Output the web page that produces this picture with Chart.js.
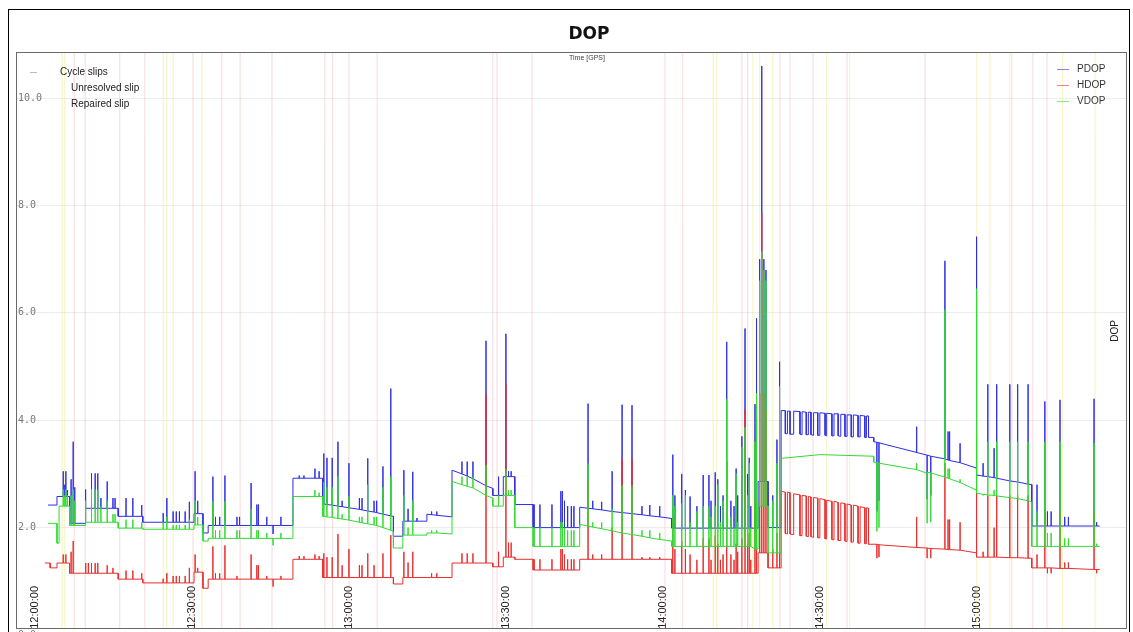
<!DOCTYPE html>
<html>
<head>
<meta charset="utf-8">
<title>DOP</title>
<script src="https://cdn.jsdelivr.net/npm/chart.js@4.4.0/dist/chart.umd.min.js"></script>
<style>
  html, body { margin: 0; padding: 0; background: #ffffff; }
  canvas { display: block; }
</style>
</head>
<body>
<canvas id="dop" width="1133" height="632"></canvas>
<script>
// Time axis: minutes after 12:00:00 GPS
const timeMin = -3.63;
const timeMax = 208.7;
const tickMinutes = [0, 30, 60, 90, 120, 150, 180];
const tickLabels = ['12:00:00', '12:30:00', '13:00:00', '13:30:00', '14:00:00', '14:30:00', '15:00:00'];

// DOP axis
const dopMin = 0.13;
const dopMax = 10.86;
const dopTicks = [0, 2, 4, 6, 8, 10];

// Each series: a base path [minute, value] plus short excursions [minute, base, peak]
const pdopLine = [
  [2.5,2.42],[4.2,2.42],[4.2,2.58],[6.6,2.58],[6.6,2.08],[9.6,2.08],[9.6,2.36],[15.9,2.36],[15.9,2.21],[20.6,2.21],
  [20.6,2.1],[30.4,2.1],[30.4,2.26],[32.1,2.26],[32.1,1.9],[33.1,1.9],[33.1,2.04],[49.3,2.04],[49.3,2.92],[55.0,2.92],
  [55.0,2.44],[68.5,2.21],[68.5,1.84],[70.3,1.84],[70.3,2.12],[74.9,2.12],[74.9,2.25],[79.7,2.2],[79.7,3.07],[87.5,2.73],
  [87.5,2.6],[89.5,2.6],[89.5,2.95],[91.7,2.95],[91.7,2.43],[95.2,2.43],[95.2,2.0],[104.1,2.0],[104.1,2.38],[121.7,2.17],
  [121.7,1.99],[138.2,1.99],[138.2,2.86],[140.1,2.86],[140.1,2.0],[142.6,2.0],
  [142.6,4.18],[143.4,4.18],[143.4,3.75],[143.8,3.75],[143.8,4.17],[144.3,4.17],[144.3,3.74],[145.0,3.74],[145.0,4.17],
  [146.2,4.16],[146.2,3.74],[146.6,3.73],[146.6,4.16],[147.4,4.15],[147.4,3.73],[147.8,3.73],[147.8,4.15],[148.3,4.15],
  [148.3,3.73],[148.8,3.72],[148.8,4.14],[149.6,4.14],[149.6,3.72],[150.0,3.72],[150.0,4.14],[151.0,4.13],[151.0,3.72],
  [151.3,3.71],[151.3,4.13],[152.3,4.12],[152.3,3.71],[152.7,3.71],[152.7,4.12],[153.5,4.12],[153.5,3.71],[154.0,3.7],
  [154.0,4.11],[154.8,4.11],[154.8,3.7],[155.2,3.7],[155.2,4.1],[156.0,4.1],[156.0,3.69],[156.4,3.69],[156.4,4.1],
  [157.3,4.09],[157.3,3.69],[157.7,3.69],[157.7,4.09],[158.6,4.08],[158.6,3.68],[158.9,3.68],[158.9,4.08],[159.3,4.08],
  [159.3,3.68],[160.3,3.68],[160.3,3.6],[180.0,3.1],[180.0,2.98],[190.5,2.8],[190.5,2.03],[203.5,2.03]
];
const pdopSpikes = [
  [5.4,2.58,3.05],[5.7,2.58,2.8],[5.9,2.58,3.05],[6.2,2.58,2.7],[6.9,2.08,2.9],[7.3,2.08,3.6],[7.6,2.08,2.75],
  [9.7,2.36,2.71],[10.8,2.36,3.01],[11.5,2.36,3.01],[12.0,2.36,3.01],[12.6,2.36,2.55],[13.8,2.36,2.86],[14.9,2.36,2.55],[15.3,2.36,2.55],
  [17.4,2.21,2.55],[18.7,2.21,2.55],[20.4,2.21,2.42],
  [24.5,2.1,2.27],[25.2,2.1,2.55],[26.4,2.1,2.3],[27.0,2.1,2.3],[27.6,2.1,2.3],[28.7,2.1,2.3],[29.5,2.1,2.48],
  [30.6,2.26,3.05],[31.1,2.26,2.5],
  [34.0,2.04,2.95],[34.5,2.04,2.2],[35.3,2.04,2.2],[36.3,2.04,2.97],[38.6,2.04,2.2],[39.1,2.04,2.2],[41.3,2.04,2.83],
  [42.4,2.04,2.43],[42.7,2.04,2.43],[44.3,2.04,2.2],[45.5,2.04,1.88],[47.0,2.04,2.2],
  [50.5,2.92,2.97],[51.4,2.92,2.97],[53.5,2.92,3.1],[54.3,2.92,3.05],
  [55.2,2.44,3.38],[55.8,2.43,3.3],[56.8,2.42,3.3],[57.9,2.4,3.6],[58.7,2.39,2.5],[60.0,2.37,3.2],[62.0,2.34,2.55],
  [62.5,2.33,2.55],[63.6,2.31,3.29],[64.8,2.29,2.5],[65.3,2.28,2.5],[66.5,2.25,3.14],[68.0,2.22,4.59],
  [70.5,2.12,3.07],[71.3,2.12,2.35],[72.2,2.12,3.04],[73.0,2.12,2.18],[75.8,2.24,2.3],[76.8,2.23,2.3],
  [81.6,3.0,3.23],[82.6,2.96,3.23],[83.7,2.91,3.23],[86.2,2.78,5.48],[88.6,2.6,2.95],[90.0,2.95,5.61],[90.5,2.95,3.05],[91.0,2.95,3.05],
  [95.4,2.0,2.43],[96.5,2.0,2.43],[98.8,2.0,2.43],[100.5,2.0,2.68],[100.8,2.0,2.68],[101.2,2.0,2.5],[101.8,2.0,2.4],[102.5,2.0,2.4],[103.0,2.0,2.4],
  [105.7,2.36,4.31],[106.6,2.35,2.5],[108.3,2.33,2.48],[110.3,2.3,3.05],[112.2,2.28,4.29],[114.1,2.26,4.28],[116.0,2.24,2.4],[117.5,2.22,2.42],[119.4,2.2,2.4],
  [121.9,1.99,3.36],[122.3,1.99,2.6],[123.6,1.99,3.0],[124.3,1.99,2.7],[125.2,1.99,2.58],[126.5,1.99,2.4],[127.7,1.99,2.98],
  [128.8,1.99,2.98],[129.2,1.99,2.5],[130.0,1.99,3.03],[130.5,1.99,2.9],[131.0,1.99,2.4],[131.5,1.99,2.6],[132.2,1.99,5.46],
  [133.0,1.99,2.5],[133.6,1.99,2.4],[134.0,1.99,3.1],[134.3,1.99,2.6],[135.1,1.99,3.7],[135.7,1.99,5.71],[136.2,1.99,3.0],
  [136.5,1.99,3.3],[136.8,1.99,2.4],[137.6,1.99,4.3],[137.9,1.99,5.9],
  [138.5,2.86,7.0],[138.9,2.86,10.6],[139.3,2.86,7.0],[139.7,2.86,6.8],
  [141.0,2.0,2.6],[141.8,2.0,3.64],[142.3,2.0,5.09],
  [160.9,3.59,2.3],[161.3,3.58,2.5],[168.5,3.4,3.88],[170.5,3.35,2.53],[171.2,3.33,2.6],[173.9,3.28,6.97],[174.5,3.26,3.79],
  [174.8,3.25,3.79],[176.8,3.21,3.57],[179.9,3.11,7.42],
  [181.2,2.96,3.2],[182.1,2.95,4.67],[183.3,2.93,3.48],[183.8,2.92,4.67],[186.3,2.87,4.67],[187.8,2.85,4.67],[189.8,2.81,4.67],
  [191.5,2.03,2.8],[193.0,2.03,4.35],[193.5,2.03,2.3],[194.2,2.03,2.3],[195.9,2.03,4.38],[196.8,2.03,2.2],[197.5,2.03,2.2],
  [202.4,2.03,4.4],[202.9,2.03,2.1]
];

const hdopLine = [
  [1.9,1.34],[2.9,1.34],[2.9,1.25],[4.2,1.25],[4.2,1.34],[6.6,1.34],[6.6,1.15],[15.9,1.15],[15.9,1.04],[20.6,1.04],
  [20.6,0.97],[30.4,0.97],[30.4,1.17],[32.1,1.17],[32.1,0.87],[33.1,0.87],[33.1,1.04],[49.3,1.04],[49.3,1.41],[55.0,1.41],
  [55.0,1.07],[68.5,1.07],[68.5,0.95],[70.3,0.95],[70.3,1.07],[79.7,1.07],[79.7,1.34],[87.5,1.34],[87.5,1.27],[89.5,1.27],
  [89.5,1.45],[91.7,1.45],[91.7,1.41],[95.2,1.41],[95.2,1.21],[104.1,1.21],[104.1,1.41],[121.7,1.41],[121.7,1.15],[138.2,1.15],
  [138.2,1.53],[140.1,1.53],[140.1,1.25],[142.6,1.25],
  [142.6,2.68],[143.4,2.66],[143.4,1.89],[143.8,1.88],[143.8,2.66],[144.3,2.65],[144.3,1.88],[145.0,1.87],[145.0,2.63],
  [146.2,2.61],[146.2,1.85],[146.6,1.85],[146.6,2.6],[147.4,2.59],[147.4,1.84],[147.8,1.83],[147.8,2.58],[148.3,2.57],
  [148.3,1.83],[148.8,1.82],[148.8,2.56],[149.6,2.55],[149.6,1.81],[150.0,1.81],[150.0,2.54],[151.0,2.52],[151.0,1.79],
  [151.3,1.79],[151.3,2.51],[152.3,2.49],[152.3,1.78],[152.7,1.77],[152.7,2.49],[153.5,2.47],[153.5,1.76],[154.0,1.76],
  [154.0,2.46],[154.8,2.45],[154.8,1.75],[155.2,1.74],[155.2,2.44],[156.0,2.42],[156.0,1.73],[156.4,1.73],[156.4,2.42],
  [157.3,2.4],[157.3,1.71],[157.7,1.71],[157.7,2.39],[158.6,2.37],[158.6,1.7],[158.9,1.7],[158.9,2.37],[159.3,2.36],
  [159.3,1.69],[160.3,1.69],[180.0,1.53],[180.0,1.45],[190.5,1.43],[190.5,1.25],[203.5,1.22]
];
const hdopSpikes = [
  [5.4,1.34,1.5],[5.9,1.34,1.5],[6.9,1.15,1.55],[7.3,1.15,1.75],
  [9.7,1.15,1.34],[10.2,1.15,1.34],[10.8,1.15,1.34],[11.5,1.15,1.34],[12.0,1.15,1.34],[13.8,1.15,1.3],[14.9,1.15,1.25],
  [17.4,1.04,1.2],[18.7,1.04,1.2],[20.4,1.04,1.15],
  [24.5,0.97,1.05],[25.2,0.97,1.15],[26.4,0.97,1.1],[27.0,0.97,1.1],[27.6,0.97,1.1],[28.7,0.97,1.1],[29.5,0.97,1.25],
  [30.6,1.17,1.5],[31.1,1.17,1.25],
  [34.0,1.04,1.65],[34.5,1.04,1.15],[35.3,1.04,1.15],[36.3,1.04,1.67],[38.6,1.04,1.1],[41.3,1.04,1.5],[42.4,1.04,1.3],
  [42.7,1.04,1.3],[44.3,1.04,1.1],[45.5,1.04,0.9],[47.0,1.04,1.1],
  [50.5,1.41,1.47],[51.4,1.41,1.47],[53.5,1.41,1.5],[54.3,1.41,1.47],
  [55.2,1.07,1.52],[55.8,1.07,1.45],[56.8,1.07,1.45],[57.9,1.07,1.88],[58.7,1.07,1.3],[60.0,1.07,1.6],[62.0,1.07,1.3],
  [62.5,1.07,1.3],[63.6,1.07,1.52],[64.8,1.07,1.3],[66.5,1.07,1.52],[68.0,1.07,1.86],
  [70.5,1.07,1.55],[71.3,1.07,1.35],[72.2,1.07,1.55],[75.8,1.07,1.15],[76.8,1.07,1.15],
  [81.6,1.34,1.52],[82.6,1.34,1.52],[83.7,1.34,1.52],[86.2,1.34,4.48],[88.6,1.27,1.55],[90.0,1.45,4.68],[90.5,1.45,1.72],[91.0,1.45,1.72],
  [95.4,1.21,1.41],[96.5,1.21,1.41],[98.8,1.21,1.41],[100.5,1.21,1.6],[100.8,1.21,1.6],[101.2,1.21,1.5],[101.8,1.21,1.41],[102.5,1.21,1.41],[103.0,1.21,1.41],
  [105.7,1.41,2.9],[106.6,1.41,1.5],[108.3,1.41,1.5],[110.3,1.41,2.0],[112.2,1.41,3.27],[114.1,1.41,3.27],[116.0,1.41,1.45],[117.5,1.41,1.45],[119.4,1.41,1.45],
  [121.9,1.15,2.2],[122.3,1.15,1.6],[123.6,1.15,1.75],[124.3,1.15,1.6],[125.2,1.15,1.5],[126.5,1.15,1.4],[127.7,1.15,1.8],
  [128.8,1.15,1.8],[129.2,1.15,1.4],[130.0,1.15,1.85],[130.5,1.15,1.7],[131.0,1.15,1.4],[131.5,1.15,1.5],[132.2,1.15,3.24],
  [133.0,1.15,1.5],[133.6,1.15,1.4],[134.0,1.15,1.7],[134.3,1.15,1.55],[135.1,1.15,1.8],[135.7,1.15,4.2],[136.2,1.15,1.8],
  [136.5,1.15,1.9],[136.8,1.15,1.4],[137.6,1.15,2.5],[137.9,1.15,4.0],
  [138.5,1.53,4.5],[138.9,1.53,7.87],[139.3,1.53,4.5],[139.7,1.53,4.2],
  [141.0,1.25,1.6],[141.8,1.25,1.9],[142.3,1.25,2.5],
  [160.9,1.69,1.43],[161.3,1.68,1.45],[168.5,1.63,2.2],[170.5,1.62,1.43],[171.2,1.61,1.43],[173.9,1.6,3.2],[174.5,1.59,2.15],
  [174.8,1.59,2.15],[176.8,1.58,2.1],[179.9,1.53,3.7],
  [181.2,1.45,1.55],[182.1,1.45,2.6],[183.3,1.45,2.0],[183.8,1.45,2.6],[186.3,1.44,2.6],[187.8,1.44,2.6],[189.8,1.43,2.6],
  [191.5,1.25,1.5],[193.0,1.25,2.3],[193.5,1.25,1.15],[194.2,1.25,1.15],[195.9,1.24,2.3],[196.8,1.24,1.35],[197.5,1.24,1.35],
  [202.4,1.22,2.3],[202.9,1.22,1.15]
];

const vdopLine = [
  [2.5,2.08],[4.2,2.08],[4.2,1.71],[4.6,1.71],[4.6,2.4],[6.6,2.4],[6.6,2.04],[9.6,2.04],[9.6,2.1],[15.9,2.1],
  [15.9,1.99],[20.6,1.99],[20.6,1.97],[30.4,1.97],[30.4,2.05],[32.1,2.05],[32.1,1.75],[33.1,1.75],[33.1,1.8],[49.3,1.8],
  [49.3,2.58],[55.0,2.58],[55.0,2.21],[68.5,1.93],[68.5,1.62],[70.3,1.62],[70.3,1.86],[74.9,1.86],[74.9,1.9],[79.7,1.88],
  [79.7,2.86],[87.5,2.55],[87.5,2.4],[89.5,2.4],[89.5,2.6],[91.7,2.6],[91.7,2.0],[95.2,2.0],[95.2,1.65],[104.1,1.65],
  [104.1,2.06],[121.7,1.75],[121.7,1.65],[138.2,1.6],[138.2,2.4],[140.1,2.4],[140.1,1.53],[142.6,1.53],[142.6,3.29],
  [150.0,3.36],[160.3,3.33],[160.3,3.22],[170.3,3.02],[180.0,2.7],[180.0,2.64],[190.5,2.48],[190.5,1.65],[203.5,1.65]
];
const vdopSpikes = [
  [5.4,2.4,2.71],[5.7,2.4,2.6],[5.9,2.4,2.71],[6.2,2.4,2.6],[6.9,2.04,2.6],[7.3,2.04,2.71],[7.6,2.04,2.5],
  [9.7,2.1,2.5],[10.8,2.1,2.71],[11.5,2.1,2.71],[12.0,2.1,2.71],[12.6,2.1,2.4],[13.8,2.1,2.5],[14.9,2.1,2.25],[15.3,2.1,2.25],
  [17.4,1.99,2.15],[18.7,1.99,2.15],[20.4,1.99,2.1],
  [24.5,1.97,2.1],[25.2,1.97,2.2],[26.4,1.97,2.05],[27.0,1.97,2.05],[27.6,1.97,2.05],[28.7,1.97,2.05],[29.5,1.97,2.15],
  [30.6,2.05,2.5],[31.1,2.05,2.2],
  [34.0,1.8,2.49],[34.5,1.8,1.95],[35.3,1.8,1.95],[36.3,1.8,2.49],[38.6,1.8,1.95],[39.1,1.8,1.95],[41.3,1.8,2.35],
  [42.4,1.8,1.95],[42.7,1.8,1.95],[44.3,1.8,1.9],[45.5,1.8,1.67],[47.0,1.8,1.9],
  [53.5,2.58,2.7],[54.3,2.58,2.65],
  [55.2,2.21,2.85],[55.8,2.2,2.75],[56.8,2.19,2.75],[57.9,2.17,2.95],[58.7,2.16,2.25],[60.0,2.14,2.58],[62.0,2.1,2.2],
  [62.5,2.09,2.2],[63.6,2.07,2.8],[64.8,2.05,2.2],[65.3,2.04,2.2],[66.5,2.0,2.75],[68.0,1.95,2.95],
  [70.5,1.86,2.6],[71.3,1.86,2.0],[72.2,1.86,2.5],[75.8,1.9,1.95],[76.8,1.9,1.95],
  [81.6,2.8,2.95],[82.6,2.77,2.95],[83.7,2.74,2.95],[86.2,2.6,3.16],[88.6,2.4,2.6],[90.0,2.6,3.09],[90.5,2.6,2.7],[91.0,2.6,2.7],
  [95.4,1.65,2.0],[96.5,1.65,2.0],[98.8,1.65,2.0],[100.5,1.65,2.1],[100.8,1.65,2.1],[101.2,1.65,2.0],[101.8,1.65,1.95],[102.5,1.65,1.95],[103.0,1.65,1.95],
  [105.7,2.03,3.19],[106.6,2.01,2.1],[108.3,1.98,2.1],[110.3,1.94,2.35],[112.2,1.9,2.78],[114.1,1.87,2.78],[116.0,1.84,1.95],[117.5,1.81,1.95],[119.4,1.78,1.9],
  [121.9,1.65,2.6],[122.3,1.65,2.4],[123.6,1.65,2.45],[124.3,1.65,2.6],[125.2,1.65,2.1],[126.5,1.65,2.3],[127.7,1.65,2.4],
  [128.8,1.65,2.4],[129.2,1.65,2.2],[130.0,1.65,2.4],[130.5,1.65,2.8],[131.0,1.65,2.1],[131.5,1.65,2.5],[132.2,1.65,4.39],
  [133.0,1.65,2.2],[133.6,1.65,2.0],[134.0,1.65,3.0],[134.3,1.65,2.1],[135.1,1.65,3.5],[135.7,1.65,3.87],[136.2,1.65,2.6],
  [136.5,1.65,3.2],[136.8,1.65,2.0],[137.6,1.6,3.6],[137.9,1.6,4.5],
  [138.5,2.4,6.6],[138.9,2.4,7.14],[139.3,2.4,6.8],[139.7,2.4,6.6],
  [141.0,1.53,2.5],[141.8,1.53,3.2],[142.3,1.53,4.63],
  [160.9,3.21,1.93],[161.3,3.2,2.0],[168.5,3.08,3.2],[170.5,3.03,2.08],[171.2,3.02,2.1],[173.9,2.94,6.06],[174.5,2.92,3.1],
  [174.8,2.91,3.1],[176.8,2.84,2.9],[179.9,2.7,6.45],
  [181.2,2.62,2.6],[182.1,2.61,3.6],[183.3,2.6,2.7],[183.8,2.59,3.6],[186.3,2.56,3.6],[187.8,2.54,3.6],[189.8,2.5,3.6],
  [191.5,1.65,2.3],[193.0,1.65,3.6],[193.5,1.65,1.9],[194.2,1.65,1.9],[195.9,1.65,3.6],[196.8,1.65,1.8],[197.5,1.65,1.8],
  [202.4,1.65,3.57],[202.9,1.65,1.7]
];

// Cycle slip epochs (minutes after 12:00:00)
const unresolvedSlips = [7.5, 9.6, 16.2, 21.0, 30.2, 35.7, 39.2, 45.3, 55.4, 56.9, 60.0, 65.4, 87.5, 88.3, 95.0,
  120.4, 123.8, 135.1, 136.2, 142.4, 144.3, 148.7, 155.2, 170.1, 186.7, 190.7, 193.4];
const repairedSlips = [5.2, 5.7, 24.5, 25.2, 26.4, 31.9, 129.6, 130.3, 137.2, 138.5, 141.0, 151.3, 155.7, 180.0,
  182.5, 186.3, 196.4, 202.6];

// Merge the base path and its excursions into one time-ordered point list
function buildSeries(line, spikes) {
  const events = [];
  line.forEach(([t, v]) => events.push({ t, pts: [[t, v]] }));
  spikes.forEach(([t, base, peak]) => events.push({ t, pts: [[t, base], [t, peak], [t, base]] }));
  events.sort((a, b) => a.t - b.t);
  const out = [];
  events.forEach(e => e.pts.forEach(([x, y]) => out.push({ x, y })));
  return out;
}

// Full-height marker lines, separated by gaps
function slipMarks(times) {
  const out = [];
  times.forEach(t => out.push({ x: t, y: dopMin }, { x: t, y: dopMax }, { x: t, y: null }));
  return out;
}

const overlay = {
  id: 'overlay',
  afterDraw(chart) {
    const { ctx, chartArea: ca } = chart;
    const ds = chart.data.datasets;
    ctx.save();
    // window frame
    ctx.strokeStyle = '#000';
    ctx.lineWidth = 1;
    ctx.strokeRect(8.5, 9.5, 1121, 640);
    // plot frame
    ctx.strokeStyle = '#6a6a6a';
    ctx.strokeRect(ca.left + 0.5, ca.top + 0.5, ca.right - ca.left - 1, ca.bottom - ca.top);

    // title
    ctx.fillStyle = '#111';
    ctx.font = 'bold 17px "DejaVu Sans", sans-serif';
    ctx.textAlign = 'center';
    ctx.textBaseline = 'middle';
    ctx.fillText('DOP', 589, 35);

    // axis captions
    ctx.fillStyle = '#444';
    ctx.font = '7px "Liberation Sans", sans-serif';
    ctx.fillText('Time [GPS]', 587, 58);

    ctx.save();
    ctx.translate(1115, 331);
    ctx.rotate(-Math.PI / 2);
    ctx.fillStyle = '#222';
    ctx.font = '10px "Liberation Sans", sans-serif';
    ctx.fillText('DOP', 0, 0);
    ctx.restore();

    // series legend (top right)
    ctx.font = '10px "Liberation Sans", sans-serif';
    ctx.textAlign = 'left';
    [0, 1, 2].forEach((i, row) => {
      const y = 69 + row * 16;
      ctx.strokeStyle = ds[i].borderColor;
      ctx.globalAlpha = 0.6;
      ctx.beginPath();
      ctx.moveTo(1057, y + 0.5);
      ctx.lineTo(1069, y + 0.5);
      ctx.stroke();
      ctx.globalAlpha = 1;
      ctx.fillStyle = '#333';
      ctx.fillText(ds[i].label, 1077, y);
    });

    // cycle slip legend (top left)
    ctx.strokeStyle = '#bbb';
    ctx.beginPath();
    ctx.moveTo(30, 72.5);
    ctx.lineTo(37, 72.5);
    ctx.stroke();
    ctx.fillStyle = '#222';
    ctx.fillText('Cycle slips', 60, 72);
    ctx.fillText(ds[3].label, 71, 88);
    ctx.fillText(ds[4].label, 71, 104);
    ctx.restore();
  }
};

new Chart(document.getElementById('dop'), {
  type: 'line',
  data: {
    datasets: [
      { label: 'PDOP', data: buildSeries(pdopLine, pdopSpikes), borderColor: 'rgb(45,45,228)', order: 3 },
      { label: 'HDOP', data: buildSeries(hdopLine, hdopSpikes), borderColor: 'rgb(232,45,45)', order: 2 },
      { label: 'VDOP', data: buildSeries(vdopLine, vdopSpikes), borderColor: 'rgb(50,218,50)', order: 1 },
      { label: 'Unresolved slip', data: slipMarks(unresolvedSlips), borderColor: 'rgba(230,140,140,0.32)', order: 4 },
      { label: 'Repaired slip', data: slipMarks(repairedSlips), borderColor: 'rgba(230,230,110,0.45)', order: 5 }
    ]
  },
  options: {
    responsive: false,
    animation: false,
    events: [],
    layout: { padding: { left: 16, right: 6, top: 52, bottom: 4 } },
    elements: {
      point: { radius: 0 },
      line: { borderWidth: 1, tension: 0 }
    },
    plugins: {
      legend: { display: false },
      tooltip: { enabled: false },
      title: { display: false }
    },
    scales: {
      x: {
        type: 'linear',
        min: timeMin,
        max: timeMax,
        grid: { display: false, drawTicks: false },
        border: { display: false },
        afterBuildTicks: s => { s.ticks = tickMinutes.map(v => ({ value: v })); },
        afterFit: s => { s.height = 0; s.paddingLeft = 0; s.paddingRight = 0; },
        ticks: {
          autoSkip: false,
          mirror: true,
          minRotation: 90,
          maxRotation: 90,
          padding: 42,
          labelOffset: 13,
          color: '#222',
          font: { family: '"Liberation Sans", sans-serif', size: 11 },
          callback: (v, i) => tickLabels[i]
        }
      },
      y: {
        type: 'linear',
        min: dopMin,
        max: dopMax,
        border: { display: false },
        grid: { color: 'rgba(0,0,0,0.07)', drawTicks: false },
        afterBuildTicks: s => { s.ticks = dopTicks.map(v => ({ value: v })); },
        afterFit: s => { s.width = 0; s.paddingTop = 0; s.paddingBottom = 0; },
        ticks: {
          mirror: true,
          padding: 2,
          color: '#777',
          font: { family: '"DejaVu Sans Mono", monospace', size: 10 },
          callback: v => v.toFixed(1)
        }
      }
    }
  },
  plugins: [overlay]
});
</script>
</body>
</html>
